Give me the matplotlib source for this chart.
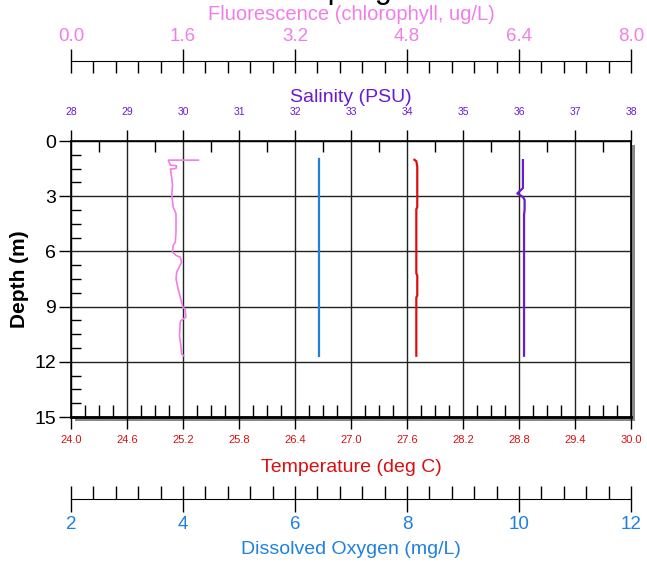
import numpy as np
import matplotlib.pyplot as plt
from matplotlib.patches import Rectangle
from matplotlib.ticker import MultipleLocator

plt.rcParams['font.family'] = ['Liberation Sans', 'DejaVu Sans']

W, H = 647, 564

#Caja en pixeles -> fracciones de figura
def box(x0, y0, x1, y1):
    return [x0 / W, 1 - y1 / H, (x1 - x0) / W, (y1 - y0) / H]

#Escalas de los ejes
depth_ticks = [0, 3, 6, 9, 12, 15]
temp_ticks = [24.0, 24.6, 25.2, 25.8, 26.4, 27.0, 27.6, 28.2, 28.8, 29.4, 30.0]
temp_labels = ["24.0", "24.6", "25.2", "25.8", "26.4", "27.0", "27.6", "28.2", "28.8", "29.4", "30.0"]
sal_ticks = [28, 29, 30, 31, 32, 33, 34, 35, 36, 37, 38]
fl_ticks = [0.0, 1.6, 3.2, 4.8, 6.4, 8.0]
fl_labels = ["0.0", "1.6", "3.2", "4.8", "6.4", "8.0"]
do_ticks = [2, 4, 6, 8, 10, 12]

#Perfiles
do_depth = [1.0, 3.0, 6.0, 9.0, 11.67]
do_val = [6.43, 6.43, 6.43, 6.43, 6.43]

temp_depth = [1.02, 1.1, 1.4, 2.5, 3.6, 3.7, 7.2, 7.3, 8.4, 8.5, 11.67]
temp_val = [27.68, 27.70, 27.71, 27.71, 27.71, 27.70, 27.70, 27.71, 27.71, 27.70, 27.70]

sal_depth = [1.04, 2.56, 2.85, 3.04, 3.2, 3.76, 4.0, 11.67]
sal_val = [36.07, 36.07, 35.97, 36.07, 36.10, 36.10, 36.09, 36.09]

fl_depth = [1.04, 1.04, 1.31, 1.35, 1.49, 1.53, 2.04, 2.40, 2.95, 3.58, 3.95, 4.95, 5.49, 5.67, 6.04, 6.22,
            6.31, 6.58, 7.13, 7.49, 8.04, 8.76, 9.04, 9.13, 9.58, 9.76, 9.86, 10.58, 11.13, 11.58, 11.67]
fl_val = [1.82, 1.39, 1.42, 1.51, 1.50, 1.42, 1.44, 1.45, 1.44, 1.46, 1.50, 1.50, 1.49, 1.46, 1.45, 1.50,
          1.56, 1.58, 1.51, 1.50, 1.53, 1.58, 1.60, 1.63, 1.64, 1.57, 1.56, 1.55, 1.57, 1.58, 1.61]

pink = '#f07ee8'
purple = '#6a1bd0'
red = '#d81010'
blue = '#1f80e0'

fig = plt.figure(figsize=(W / 100, H / 100), dpi=100)

#Sombra del marco
fig.add_artist(Rectangle((75 / W, 1 - 421 / H), 560 / W, 276 / H, transform=fig.transFigure,
                         facecolor='#8a8a8a', edgecolor='none', zorder=-1))

#Eje principal: temperatura (abajo) y profundidad
ax = fig.add_axes(box(71, 141, 631, 417))
ax.set_facecolor('white')
ax.set_xlim(24, 30)
ax.set_ylim(15, 0)
ax.set_yticks(depth_ticks)
ax.set_yticklabels([str(d) for d in depth_ticks], fontsize=14)
ax.yaxis.set_minor_locator(MultipleLocator(0.75))
ax.tick_params(axis='y', which='major', direction='out', length=8.6, width=1, pad=2)
ax.tick_params(axis='y', which='minor', direction='in', length=7.2, width=1)
ax.set_xticks(temp_ticks)
ax.set_xticklabels(temp_labels, fontsize=8, color=red)
ax.xaxis.set_minor_locator(MultipleLocator(0.15))
ax.tick_params(axis='x', which='major', direction='out', length=8.6, width=1, pad=4.5)
ax.tick_params(axis='x', which='minor', direction='in', length=8.6, width=1)
ax.grid(True, which='major', color='#222222', linewidth=1)
for s in ax.spines.values():
    s.set_color('black')
    s.set_linewidth(1.2)
ax.spines['bottom'].set_linewidth(2)
ax.set_ylabel('Depth (m)', fontsize=15, fontweight='bold', labelpad=4)
ax.plot(temp_val, temp_depth, color=red, linewidth=1.6)

#Salinidad arriba
ax_s = ax.twiny()
ax_s.set_xlim(28, 38)
ax_s.set_xticks(sal_ticks)
ax_s.set_xticklabels([str(s) for s in sal_ticks], fontsize=7.5, color=purple)
ax_s.xaxis.set_minor_locator(MultipleLocator(0.5))
ax_s.tick_params(axis='x', which='major', direction='out', length=8, width=1, pad=9.5)
ax_s.tick_params(axis='x', which='minor', direction='in', length=8, width=1)
ax_s.plot(sal_val, sal_depth, color=purple, linewidth=1.6)

#Oxigeno y fluorescencia sobre el mismo panel
ax_d = ax.twiny()
ax_d.set_xlim(2, 12)
ax_d.axis('off')
ax_d.plot(do_val, do_depth, color=blue, linewidth=1.6)

ax_f = ax.twiny()
ax_f.set_xlim(0, 8)
ax_f.axis('off')
ax_f.plot(fl_val, fl_depth, color=pink, linewidth=1.2)

#Escala de fluorescencia
axf = fig.add_axes(box(71, 61, 631, 61))
axf.set_xlim(0, 8)
axf.set_yticks([])
axf.patch.set_visible(False)
for k in ['left', 'right', 'bottom']:
    axf.spines[k].set_visible(False)
axf.xaxis.set_ticks_position('top')
axf.set_xticks(fl_ticks)
axf.set_xticklabels(fl_labels, fontsize=13.5, color=pink)
axf.xaxis.set_minor_locator(MultipleLocator(0.32))
axf.tick_params(axis='x', which='major', direction='inout', length=17.3, width=1, pad=3)
axf.tick_params(axis='x', which='minor', direction='in', length=8.6, width=1)

#Escala de oxigeno disuelto
axd = fig.add_axes(box(71, 499, 631, 499))
axd.set_xlim(2, 12)
axd.set_yticks([])
axd.patch.set_visible(False)
for k in ['left', 'right', 'top']:
    axd.spines[k].set_visible(False)
axd.set_xticks(do_ticks)
axd.set_xticklabels([str(d) for d in do_ticks], fontsize=13.5, color=blue)
axd.xaxis.set_minor_locator(MultipleLocator(0.4))
axd.tick_params(axis='x', which='major', direction='inout', length=18.7, width=1, pad=3)
axd.tick_params(axis='x', which='minor', direction='in', length=9.4, width=1)

#Titulos de los ejes
fig.text(351 / W, 1 - 14 / H, 'Fluorescence (chlorophyll, ug/L)', color=pink, fontsize=14.5, ha='center', va='center')
fig.text(351 / W, 1 - 97 / H, 'Salinity (PSU)', color=purple, fontsize=14, ha='center', va='center')
fig.text(351 / W, 1 - 468 / H, 'Temperature (deg C)', color=red, fontsize=14, ha='center', va='center')
fig.text(351 / W, 1 - 549 / H, 'Dissolved Oxygen (mg/L)', color=blue, fontsize=14, ha='center', va='center')
#Titulo principal, recortado por el borde superior como en la imagen
fig.text(340 / W, 1 + 2 / H, 'CTD Sampling Profile', color='black', fontsize=22, ha='center', va='baseline')

fig.savefig('out.png', dpi=100)
